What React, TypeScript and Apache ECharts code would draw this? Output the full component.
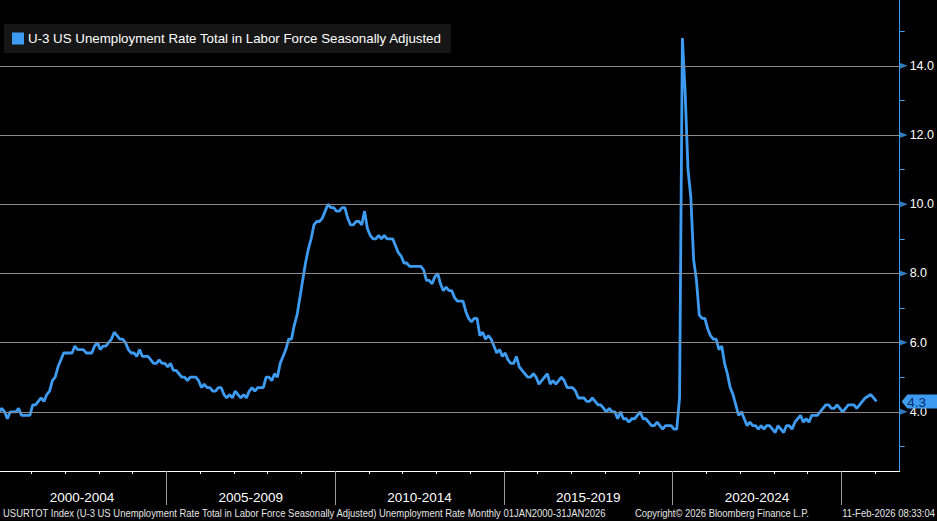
import React, { useEffect, useRef } from "react";
import * as echarts from "echarts";

// ---- Data (monthly, Jan 2000 .. Jan 2026; Oct 2025 not published) ----
const START_YEAR = 2000;
const rate2000 = [4.0, 4.1, 4.0, 3.8, 4.0, 4.0, 4.0, 4.1, 3.9, 3.9, 3.9, 3.9];
const rate2001 = [4.2, 4.2, 4.3, 4.4, 4.3, 4.5, 4.6, 4.9, 5.0, 5.3, 5.5, 5.7];
const rate2002 = [5.7, 5.7, 5.7, 5.9, 5.8, 5.8, 5.8, 5.7, 5.7, 5.7, 5.9, 6.0];
const rate2003 = [5.8, 5.9, 5.9, 6.0, 6.1, 6.3, 6.2, 6.1, 6.1, 6.0, 5.8, 5.7];
const rate2004 = [5.7, 5.6, 5.8, 5.6, 5.6, 5.6, 5.5, 5.4, 5.4, 5.5, 5.4, 5.4];
const rate2005 = [5.3, 5.4, 5.2, 5.2, 5.1, 5.0, 5.0, 4.9, 5.0, 5.0, 5.0, 4.9];
const rate2006 = [4.7, 4.8, 4.7, 4.7, 4.6, 4.6, 4.7, 4.7, 4.5, 4.4, 4.5, 4.4];
const rate2007 = [4.6, 4.5, 4.4, 4.5, 4.4, 4.6, 4.7, 4.6, 4.7, 4.7, 4.7, 5.0];
const rate2008 = [5.0, 4.9, 5.1, 5.0, 5.4, 5.6, 5.8, 6.1, 6.1, 6.5, 6.8, 7.3];
const rate2009 = [7.8, 8.3, 8.7, 9.0, 9.4, 9.5, 9.5, 9.6, 9.8, 10.0, 9.9, 9.9];
const rate2010 = [9.8, 9.8, 9.9, 9.9, 9.6, 9.4, 9.4, 9.5, 9.5, 9.4, 9.8, 9.3];
const rate2011 = [9.1, 9.0, 9.0, 9.1, 9.0, 9.1, 9.0, 9.0, 9.0, 8.8, 8.6, 8.5];
const rate2012 = [8.3, 8.3, 8.2, 8.2, 8.2, 8.2, 8.2, 8.1, 7.8, 7.8, 7.7, 7.9];
const rate2013 = [8.0, 7.7, 7.5, 7.6, 7.5, 7.5, 7.3, 7.2, 7.2, 7.2, 6.9, 6.7];
const rate2014 = [6.6, 6.7, 6.7, 6.2, 6.3, 6.1, 6.2, 6.1, 5.9, 5.7, 5.8, 5.6];
const rate2015 = [5.7, 5.5, 5.4, 5.4, 5.6, 5.3, 5.2, 5.1, 5.0, 5.0, 5.1, 5.0];
const rate2016 = [4.8, 4.9, 5.0, 5.1, 4.8, 4.9, 4.8, 4.9, 5.0, 4.9, 4.7, 4.7];
const rate2017 = [4.7, 4.6, 4.4, 4.4, 4.4, 4.3, 4.3, 4.4, 4.3, 4.2, 4.2, 4.1];
const rate2018 = [4.0, 4.1, 4.0, 4.0, 3.8, 4.0, 3.8, 3.8, 3.7, 3.8, 3.8, 3.9];
const rate2019 = [4.0, 3.8, 3.8, 3.7, 3.6, 3.6, 3.7, 3.6, 3.5, 3.6, 3.6, 3.6];
const rate2020 = [3.5, 3.5, 4.4, 14.8, 13.2, 11.0, 10.2, 8.4, 7.8, 6.8, 6.7, 6.7];
const rate2021 = [6.4, 6.2, 6.1, 6.1, 5.8, 5.9, 5.4, 5.1, 4.7, 4.5, 4.2, 3.9];
const rate2022 = [4.0, 3.8, 3.6, 3.7, 3.6, 3.6, 3.5, 3.6, 3.5, 3.6, 3.6, 3.5];
const rate2023 = [3.4, 3.6, 3.5, 3.4, 3.6, 3.6, 3.5, 3.7, 3.8, 3.9, 3.7, 3.8];
const rate2024 = [3.7, 3.9, 3.9, 3.9, 4.0, 4.1, 4.2, 4.2, 4.1, 4.1, 4.2, 4.1];
const rate2025 = [4.0, 4.1, 4.2, 4.2, 4.2, 4.1, 4.2, 4.3, 4.4, null, 4.5, 4.4];
const rate2026 = [4.3];

const yearlyRates: (number | null)[][] = [
  rate2000, rate2001, rate2002, rate2003, rate2004, rate2005, rate2006,
  rate2007, rate2008, rate2009, rate2010, rate2011, rate2012, rate2013,
  rate2014, rate2015, rate2016, rate2017, rate2018, rate2019, rate2020,
  rate2021, rate2022, rate2023, rate2024, rate2025, rate2026,
];

const periodLabels = ["2000-2004", "2005-2009", "2010-2014", "2015-2019", "2020-2024"];
const periodCenters = [2002.5, 2007.5, 2012.5, 2017.5, 2022.5];
const periodBounds = [2005, 2010, 2015, 2020, 2025];
const yearTicks = [2001, 2002, 2003, 2004, 2005, 2006, 2007, 2008, 2009, 2010, 2011, 2012, 2013,
  2014, 2015, 2016, 2017, 2018, 2019, 2020, 2021, 2022, 2023, 2024, 2025, 2026];
const yMajorTicks = [4, 6, 8, 10, 12, 14];
const yMinorTicks = [3, 5, 7, 9, 11, 13, 15];

const SERIES_NAME = "U-3 US Unemployment Rate Total in Labor Force Seasonally Adjusted";
const FOOTER_LEFT =
  "USURTOT Index (U-3 US Unemployment Rate Total in Labor Force Seasonally Adjusted) Unemployment Rate Monthly 01JAN2000-31JAN2026";
const FOOTER_MID = "Copyright\u00A9 2026 Bloomberg Finance L.P.";
const FOOTER_RIGHT = "11-Feb-2026 08:33:04";

const X_MIN = 2000.073;
const X_MAX = 2026.73;
const Y_MIN = 2.29;
const Y_MAX = 15.9;

const BLUE = "#3d9cf2";
const FONT = "'Liberation Sans', Arial, sans-serif";
const FOOT_SCALE = 0.86;

export default function App() {
  const ref = useRef<HTMLDivElement>(null);

  useEffect(() => {
    document.body.style.margin = "0";
    document.body.style.background = "#000";
    if (!ref.current) return;
    const chart = echarts.init(ref.current, null, { renderer: "svg" });

    const points: [number, number | null][] = [];
    yearlyRates.forEach((arr, yi) => {
      arr.forEach((v, m) => {
        points.push([START_YEAR + yi + (m + 0.5) / 12, v]);
      });
    });
    const last = points[points.length - 1];

    const footStyle = {
      fill: "#e6e6e6",
      fontSize: 11,
      fontFamily: FONT,
      textVerticalAlign: "middle",
      verticalAlign: "middle",
    };

    const option: any = {
      animation: false,
      backgroundColor: "#000",
      legend: {
        data: [SERIES_NAME],
        left: 4,
        top: 24,
        padding: [8, 9, 8, 8],
        backgroundColor: "#161616",
        icon: "rect",
        itemWidth: 12,
        itemHeight: 12,
        itemGap: 4,
        selectedMode: false,
        textStyle: { color: "#ffffff", fontSize: 13.3, fontFamily: FONT, padding: [0, 0, 0, -1] },
      },
      grid: { left: 0, top: 0, right: 37, bottom: 50, containLabel: false },
      xAxis: [
        {
          type: "value",
          min: X_MIN,
          max: X_MAX,
          position: "bottom",
          axisLine: { show: true, onZero: false, lineStyle: { color: "#ffffff", width: 1 } },
          axisTick: { show: true, customValues: yearTicks, length: 3, lineStyle: { color: "#ffffff" } },
          axisLabel: {
            show: true,
            customValues: periodCenters,
            formatter: (v: number) => {
              const i = periodCenters.indexOf(v);
              return i >= 0 ? periodLabels[i] : "";
            },
            color: "#ffffff",
            fontSize: 13.5,
            fontFamily: FONT,
            margin: 19,
          },
          splitLine: { show: false },
        },
        {
          type: "value",
          min: X_MIN,
          max: X_MAX,
          position: "bottom",
          axisLine: { show: false, onZero: false },
          axisTick: { show: true, customValues: periodBounds, length: 34, lineStyle: { color: "#9a9a9a" } },
          axisLabel: { show: false },
          splitLine: { show: false },
        },
      ],
      yAxis: {
        type: "value",
        position: "right",
        min: Y_MIN,
        max: Y_MAX,
        axisLine: { show: true, onZero: false, lineStyle: { color: BLUE, width: 1 } },
        axisTick: {
          show: true,
          customValues: yMinorTicks,
          length: 5,
          lineStyle: { color: BLUE },
        },
        axisLabel: {
          show: true,
          customValues: yMajorTicks,
          formatter: (v: number) => v.toFixed(1),
          color: "#ffffff",
          fontSize: 12.5,
          fontFamily: FONT,
          margin: 10,
        },
        splitLine: { show: false },
      },
      series: [
        {
          name: "grid",
          type: "line",
          data: points,
          showSymbol: false,
          silent: true,
          z: 1,
          connectNulls: true,
          lineStyle: { opacity: 0 },
          markLine: {
            silent: true,
            symbol: "none",
            animation: false,
            label: { show: false },
            lineStyle: { color: "#8a8a8a", width: 1, type: "solid" },
            data: yMajorTicks.map((v) => ({ yAxis: v })),
          },
        },
        {
          name: SERIES_NAME,
          type: "line",
          data: points,
          showSymbol: false,
          connectNulls: true,
          z: 3,
          color: BLUE,
          lineStyle: { color: BLUE, width: 2.8 },
          markPoint: {
            silent: true,
            symbol: "path://M0,7 L6,0 L40,0 L40,14 L6,14 Z",
            symbolSize: [38, 14],
            symbolOffset: [21, 0],
            symbolKeepAspect: false,
            itemStyle: { color: BLUE },
            label: {
              show: true,
              formatter: (p: any) => Number(p.value).toFixed(1),
              color: "#0b2a66",
              fontSize: 13.5,
              fontFamily: FONT,
              offset: [-4, 1],
            },
            data: [{ coord: [X_MAX, last[1]], value: last[1] }],
          },
        },
        {
          name: "majorTicks",
          type: "scatter",
          data: yMajorTicks.map((v) => [X_MAX, v]),
          symbol: "triangle",
          symbolSize: [6, 8],
          symbolRotate: -90,
          symbolOffset: [4, 0],
          clip: false,
          silent: true,
          z: 4,
          itemStyle: { color: BLUE },
        },
      ],
      graphic: [
        {
          type: "text",
          x: 3,
          y: 513,
          scaleX: FOOT_SCALE,
          silent: true,
          style: { ...footStyle, text: FOOTER_LEFT },
        },
        {
          type: "text",
          x: 635,
          y: 513,
          scaleX: FOOT_SCALE,
          silent: true,
          style: { ...footStyle, text: FOOTER_MID },
        },
        {
          type: "text",
          x: 935,
          y: 513,
          scaleX: FOOT_SCALE,
          silent: true,
          style: { ...footStyle, text: FOOTER_RIGHT, textAlign: "right", align: "right" },
        },
      ],
    };

    chart.setOption(option);
    return () => chart.dispose();
  }, []);

  return (
    <div
      ref={ref}
      style={{ position: "absolute", left: 0, top: 0, width: 937, height: 521, background: "#000" }}
    />
  );
}
